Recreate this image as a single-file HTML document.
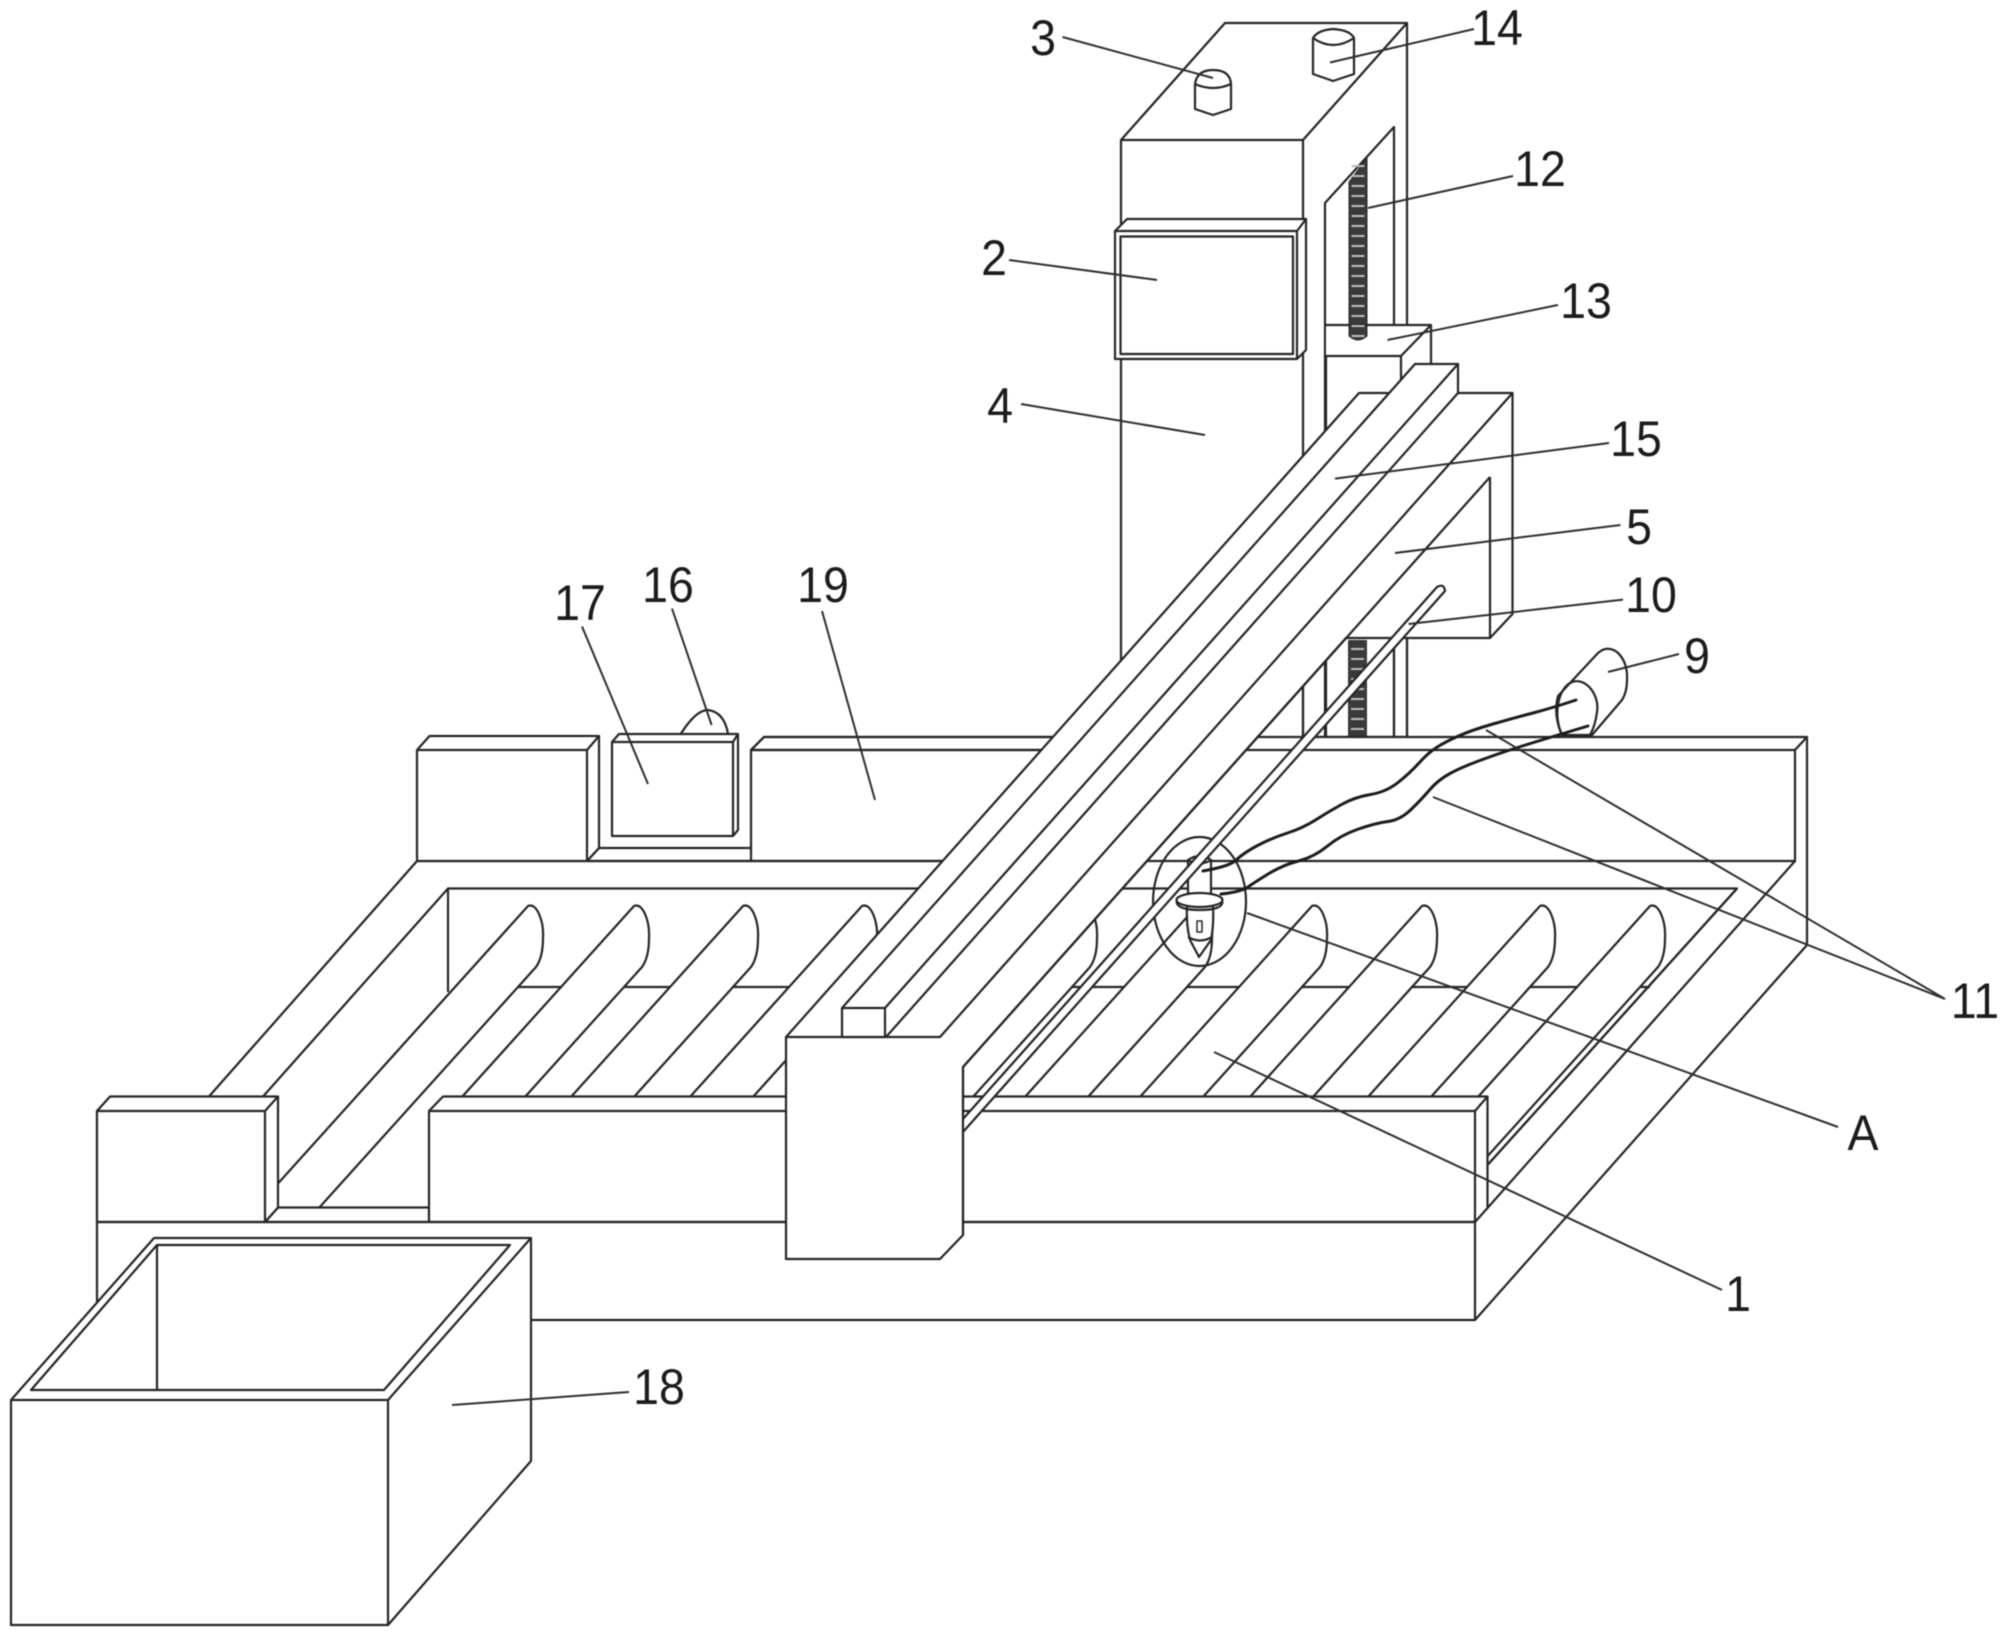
<!DOCTYPE html>
<html><head><meta charset="utf-8"><style>
html,body{margin:0;padding:0;background:#fff}
svg{display:block;filter:blur(.4px)}
.l{fill:none;stroke:#262626;stroke-width:2.2;stroke-linejoin:round}
.w{fill:#fff;stroke:#262626;stroke-width:2.2;stroke-linejoin:round}
.ld{fill:none;stroke:#2e2e2e;stroke-width:2}
text{font-family:"Liberation Sans",sans-serif;font-size:50px;fill:#1c1c1c;text-anchor:middle}
</style></head><body>
<svg width="2003" height="1635" viewBox="0 0 2003 1635" xmlns="http://www.w3.org/2000/svg">
<rect width="2003" height="1635" fill="#fff"/>
<!-- column -->
<path class="w" d="M1121 700V140H1303V737H1407V23H1225L1121 140"/>
<path class="l" d="M1303 140L1407 23"/>
<path class="l" d="M1325 737V203L1394 127V737"/>
<path d="M1349 182L1367 158V335Q1358 343 1349 335Z" fill="#3a3a3a" stroke="#262626"/>
<path d="M1358 165V338" stroke="#bdbdbd" stroke-width="13" stroke-dasharray="2 8" fill="none"/>
<rect x="1348" y="636" width="19" height="100" fill="#3a3a3a"/>
<path d="M1357.500 638V736" stroke="#bdbdbd" stroke-width="13" stroke-dasharray="2 8" fill="none"/>
<!-- knobs -->
<path class="w" d="M1195 84Q1197 70 1213 70Q1230 70 1231 84V109L1213 115L1195 109Z"/>
<path class="l" d="M1195 84Q1213 92 1231 84"/>
<path class="w" d="M1313 38Q1318 30 1333 29Q1350 30 1354 38V74L1333 81L1313 74Z"/>
<path class="l" d="M1313 38Q1333 52 1354 38"/>
<!-- display 2 -->
<path class="w" d="M1115 231L1127 219H1306V350L1297 359H1115Z"/>
<path class="l" d="M1115 231H1297V359M1297 231L1306 219"/>
<rect class="l" x="1120.500" y="236.500" width="172.500" height="117.500"/>
<!-- block 13 -->
<path d="M1326 640V325H1431V393H1401V640Z" fill="#fff"/>
<path class="l" d="M1326 325H1431V370M1326 356H1401L1430 326M1401 356V385M1326 356V737"/>
<path d="M1349 325V336Q1358 344 1367 336V325Z" fill="#3a3a3a" stroke="#262626"/>
<path d="M1358 325V340" stroke="#bdbdbd" stroke-width="13" stroke-dasharray="2 8" fill="none"/>
<path class="l" d="M1303 640V737M1394 640V737M1407 640V737"/>
<!-- cylinder 9 -->
<path class="w" d="M1570 683L1598 653Q1607 645 1617 652Q1628 662 1627 680Q1627 692 1622 700L1592 735H1562Q1553 715 1558 696Z"/>
<path class="l" d="M1562 735C1553 715 1558 690 1570 683C1585 675 1600 695 1597 712C1596 720 1594 728 1590 735"/>
<!-- base -->
<path d="M97 1222H1475L1807 945V737H764L751 750V861H417L209 1096.500L97 1222V1320H1475L1807 945" fill="#fff"/>
<path class="l" d="M97 1110V1320H1475L1807 945V737H764L751 750H1795V862M1795 750L1807 737"/>
<path class="l" d="M417 861H1795L1487.500 1208"/>
<path class="l" d="M417 861L209 1096.500"/>
<path class="l" d="M448 888.500L263 1096.500"/>
<path class="l" d="M448 992V888.500H1737L1487.500 1165"/>
<path class="l" d="M480 987H1650"/>
<!-- rollers -->
<path class="w" transform="translate(528 0)" d="M-278.400 1215L0 906C9 902 16 922 15 938C15 950 13 960 8 967L-215.400 1215"/>
<path class="w" transform="translate(634 0)" d="M-174.800 1100L0 906C9 902 16 922 15 938C15 950 13 960 8 967L-111.800 1100"/>
<path class="w" transform="translate(743 0)" d="M-174.800 1100L0 906C9 902 16 922 15 938C15 950 13 960 8 967L-111.800 1100"/>
<path class="w" transform="translate(862 0)" d="M-174.800 1100L0 906C9 902 16 922 15 938C15 950 13 960 8 967L-111.800 1100"/>
<path class="w" transform="translate(975 0)" d="M-174.800 1100L0 906C9 902 16 922 15 938C15 950 13 960 8 967L-111.800 1100"/>
<path class="w" transform="translate(1082 0)" d="M-174.800 1100L0 906C9 902 16 922 15 938C15 950 13 960 8 967L-111.800 1100"/>
<path class="w" transform="translate(1197 0)" d="M-174.800 1100L0 906C9 902 16 922 15 938C15 950 13 960 8 967L-111.800 1100"/>
<path class="w" transform="translate(1312 0)" d="M-174.800 1100L0 906C9 902 16 922 15 938C15 950 13 960 8 967L-111.800 1100"/>
<path class="w" transform="translate(1422 0)" d="M-174.800 1100L0 906C9 902 16 922 15 938C15 950 13 960 8 967L-111.800 1100"/>
<path class="w" transform="translate(1540 0)" d="M-174.800 1100L0 906C9 902 16 922 15 938C15 950 13 960 8 967L-111.800 1100"/>
<path class="w" transform="translate(1650 0)" d="M-264.900 1200L0 906C9 902 16 922 15 938C15 950 13 960 8 967L-201.900 1200"/>
<path class="l" d="M1737 888.500L1487.500 1165"/>
<!-- back-left blocks -->
<path class="l" d="M587 861L599 848H750M587 861H960"/>
<path class="w" d="M417 861V750L429.500 736H599V848L587 861Z"/>
<path class="l" d="M417 750H587V861M587 750L599 736"/>
<path class="l" d="M751 861V750L764 737H1060M751 750H1060"/>
<path class="l" d="M681 733.500Q696 710 708 710Q724 712 728 733.500"/>
<path class="w" d="M612 836V742L619 734H738V830L733 836Z"/>
<path class="l" d="M612 742H733V836M733 742L738 734"/>
<!-- front walls -->
<path class="w" d="M265 1222L278 1207.500H429V1222Z"/>
<path class="w" d="M97 1222V1111L110 1096.500H278V1207.500L265 1222Z"/>
<path class="l" d="M97 1111H265V1222M265 1111L278 1096.500"/>
<path class="w" d="M429 1222V1111L443 1096.500H1487.500V1208L1475 1222Z"/>
<path class="l" d="M429 1111H1475V1222M1475 1111L1487.500 1096.500"/>
<path class="l" d="M97 1222H1475V1320"/>
<!-- rail + plate -->
<path class="w" d="M786 1037L1359 393H1512.500V614L1490 638H1346L963 1067V1235L940 1259H786Z"/>
<path class="l" d="M786 1037H940L1512.500 393M1490 477V638M1490 477L963 1067"/>
<path class="w" d="M842 1037V1008L1415 364H1458V393L886 1037Z"/>
<path class="l" d="M842 1008H885V1037M885 1008L1458 364"/>
<!-- pen -->
<ellipse class="l" cx="1199.500" cy="901.500" rx="46.500" ry="64.500"/>
<path class="w" d="M1188 860Q1200 852 1211 860V895H1188Z"/>
<path class="l" d="M1188 860Q1200 867 1211 860"/>
<path class="w" d="M1187 905H1213Q1214 925 1211 940L1199 957L1190 940Q1186 925 1187 905Z"/>
<path class="l" d="M1188 937Q1200 944 1212 937"/>
<rect class="l" x="1197" y="921" width="5" height="11" style="stroke-width:1.500"/>
<ellipse class="w" cx="1199.500" cy="900" rx="23" ry="7"/>
<path class="l" d="M1176.500 902Q1178 910 1199.500 910Q1222 910 1222.500 902"/>
<!-- rod 10 -->
<path d="M963 1119L1437 587Q1444 583 1445 591L963 1132Z" fill="#fff"/>
<path class="l" d="M963 1119L1437 587Q1444 583 1445 591L963 1132"/>
<path class="l" d="M963 1067V1235"/>
<!-- wires -->
<g fill="none" stroke="#1c1c1c" stroke-width="3" stroke-linejoin="round" stroke-linecap="round">
<path d="M1576 700Q1552 708 1533 713Q1514 718 1493 724Q1472 730 1458.500 736Q1445 742 1436.500 747.500Q1428 753 1419 763Q1410 773 1398 782.500Q1386 792 1370.500 794.500Q1355 797 1341.500 804.500Q1328 812 1315.500 820Q1303 828 1287.500 833Q1272 838 1258.500 845Q1245 852 1236 860Q1231 866 1203 871"/>
<path d="M1588 726Q1548 738 1525.500 745Q1503 752 1482.500 759.500Q1462 767 1450 773.500Q1438 780 1429.500 790Q1421 800 1410.500 810Q1400 820 1388 821.500Q1376 823 1358.500 829Q1341 835 1327.500 846Q1314 857 1298.500 861Q1283 865 1269 873.500Q1255 882 1248 887Q1241 892 1221 894"/>
</g>
<!-- box 18 -->
<path class="w" d="M11 1400L154 1238H531V1461L388 1625H11Z"/>
<path class="l" d="M11 1400H388V1625M388 1400L531 1238"/>
<path class="l" d="M31 1390L157 1245H510L384 1390Z"/>
<path class="l" d="M157 1245V1390"/>
<!-- leaders -->
<path class="ld" d="M1062.500 37L1213 78"/>
<path class="ld" d="M1474 29L1330 62.500"/>
<path class="ld" d="M1513 176L1368 208"/>
<path class="ld" d="M1009 260L1157 280"/>
<path class="ld" d="M1558 305L1387.500 340"/>
<path class="ld" d="M1021 404L1205 435"/>
<path class="ld" d="M1609 443L1335 478.600"/>
<path class="ld" d="M1620.500 525L1395 553"/>
<path class="ld" d="M1623 599.600L1408.500 624"/>
<path class="ld" d="M1679 654L1608 672"/>
<path class="ld" d="M1486 730L1945 999L1433 797"/>
<path class="ld" d="M1838 1127L1247 913"/>
<path class="ld" d="M1722 1290L1214 1052"/>
<path class="ld" d="M629 1392L452 1405"/>
<path class="ld" d="M582 626.500L648 784"/>
<path class="ld" d="M672 608.600L711.600 725"/>
<path class="ld" d="M822 611L875 800"/>
<!-- labels -->
<text transform="translate(1043 55) scale(.93 1)">3</text>
<text transform="translate(1497 45) scale(.93 1)">14</text>
<text transform="translate(1540 186) scale(.93 1)">12</text>
<text transform="translate(994 275) scale(.93 1)">2</text>
<text transform="translate(1586 318) scale(.93 1)">13</text>
<text transform="translate(1000 423) scale(.93 1)">4</text>
<text transform="translate(1636 456) scale(.93 1)">15</text>
<text transform="translate(1639 544) scale(.93 1)">5</text>
<text transform="translate(1651 612) scale(.93 1)">10</text>
<text transform="translate(1697 673) scale(.93 1)">9</text>
<text transform="translate(1975 1018) scale(.93 1)">11</text>
<text transform="translate(1863 1150) scale(.93 1)">A</text>
<text transform="translate(1738 1311) scale(.93 1)">1</text>
<text transform="translate(659 1404) scale(.93 1)">18</text>
<text transform="translate(580 620) scale(.93 1)">17</text>
<text transform="translate(668 602) scale(.93 1)">16</text>
<text transform="translate(823 602) scale(.93 1)">19</text>
</svg>
</body></html>
